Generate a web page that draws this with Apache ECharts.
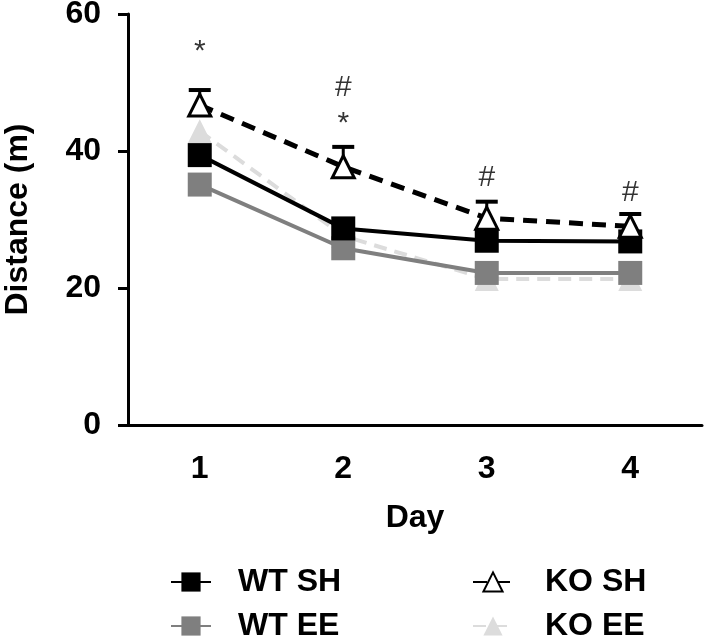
<!DOCTYPE html>
<html>
<head>
<meta charset="utf-8">
<script src="https://cdn.jsdelivr.net/npm/echarts@6/dist/echarts.min.js"></script>
<style>
  html, body { margin: 0; padding: 0; background: #fff; }
  #chart { width: 708px; height: 641px; }
</style>
</head>
<body>
<div id="chart"></div>
<script>
const days = ["1", "2", "3", "4"];
const wtSh = [39.4, 28.7, 26.9, 26.8];
const wtEe = [35.1, 25.8, 22.2, 22.2];
const koSh = [46.7, 37.7, 30.2, 29.0];
const koShErr = [2.2, 2.9, 2.4, 1.8];
const koEe = [42.9, 27.6, 21.3, 21.3];

// significance marks: [day index, y position, text]
const marks = [
  [0, 54.5, "*"],
  [1, 49.2, "#"],
  [1, 44.0, "*"],
  [2, 36.1, "#"],
  [3, 33.9, "#"],
];

const font = "Liberation Sans, Arial, sans-serif";
const chart = echarts.init(document.getElementById("chart"));

const legendText = {
  fontFamily: font,
  fontWeight: "bold",
  fontSize: 32,
  lineHeight: 32,
  color: "#000",
  padding: [0, 0, 0, 22],
};

chart.setOption({
  animation: false,
  grid: { left: 128, right: 6, top: 14, bottom: 216, outerBoundsMode: "none", containLabel: false },
  legend: [
    {
      orient: "vertical",
      left: 170,
      top: 566,
      height: 120,
      padding: 0,
      itemWidth: 40,
      itemHeight: 24,
      itemGap: 12,
      data: ["WT SH", "WT EE"],
      textStyle: legendText,
    },
    {
      orient: "vertical",
      left: 472,
      top: 566,
      height: 120,
      padding: 0,
      itemWidth: 40,
      itemHeight: 24,
      itemGap: 12,
      data: ["KO SH", "KO EE"],
      textStyle: Object.assign({}, legendText, { padding: [0, 0, 0, 27] }),
    },
  ],
  xAxis: {
    type: "category",
    data: days,
    boundaryGap: true,
    name: "Day",
    nameLocation: "middle",
    nameGap: 77,
    nameTextStyle: { fontFamily: font, fontWeight: "bold", fontSize: 32, color: "#000" },
    axisLine: { lineStyle: { color: "#000", width: 3 } },
    axisTick: { alignWithLabel: true, length: 10, lineStyle: { color: "#000", width: 3 } },
    axisLabel: { fontFamily: font, fontWeight: "bold", fontSize: 32, color: "#000", margin: 28 },
    splitLine: { show: false },
  },
  yAxis: {
    type: "value",
    min: 0,
    max: 60,
    interval: 20,
    name: "Distance (m)",
    nameLocation: "middle",
    nameGap: 94,
    nameTextStyle: { fontFamily: font, fontWeight: "bold", fontSize: 32, color: "#000" },
    axisLine: { show: true, lineStyle: { color: "#000", width: 3 } },
    axisTick: { show: true, length: 10, lineStyle: { color: "#000", width: 3 } },
    axisLabel: { fontFamily: font, fontWeight: "bold", fontSize: 32, color: "#000", margin: 27 },
    splitLine: { show: false },
  },
  series: [
    {
      name: "KO EE",
      type: "line",
      data: koEe,
      symbol: "triangle",
      symbolSize: 24,
      itemStyle: { color: "#dcdcdc" },
      lineStyle: { color: "#dcdcdc", width: 4, type: [13, 8] },
      z: 2,
    },
    {
      name: "WT EE",
      type: "line",
      data: wtEe,
      symbol: "rect",
      symbolSize: 24,
      itemStyle: { color: "#7f7f7f" },
      lineStyle: { color: "#7f7f7f", width: 4 },
      z: 3,
    },
    {
      name: "WT SH",
      type: "line",
      data: wtSh,
      symbol: "rect",
      symbolSize: 24,
      itemStyle: { color: "#000" },
      lineStyle: { color: "#000", width: 4 },
      z: 4,
    },
    {
      name: "KO SH",
      type: "line",
      data: koSh,
      symbol: "triangle",
      symbolSize: 22,
      itemStyle: { color: "#fff", borderColor: "#000", borderWidth: 3 },
      lineStyle: { color: "#000", width: 5, type: [14, 9] },
      z: 5,
    },
    {
      name: "KO SH err",
      type: "custom",
      z: 6,
      data: koSh.map((v, i) => [i, v, v + koShErr[i]]),
      renderItem: (params, api) => {
        const base = api.coord([api.value(0), api.value(1)]);
        const top = api.coord([api.value(0), api.value(2)]);
        const half = 11;
        return {
          type: "group",
          children: [
            { type: "line", shape: { x1: base[0], y1: base[1] - 10, x2: top[0], y2: top[1] }, style: { stroke: "#000", lineWidth: 3 } },
            { type: "line", shape: { x1: top[0] - half, y1: top[1], x2: top[0] + half, y2: top[1] }, style: { stroke: "#000", lineWidth: 4 } },
          ],
        };
      },
    },
    {
      name: "marks",
      type: "scatter",
      symbolSize: 0,
      z: 7,
      data: marks.map((m) => [m[0], m[1]]),
      label: {
        show: true,
        position: "inside",
        formatter: (p) => marks[p.dataIndex][2],
        fontFamily: font,
        fontSize: 30,
        color: "#000",
      },
    },
  ],
});
</script>
</body>
</html>
